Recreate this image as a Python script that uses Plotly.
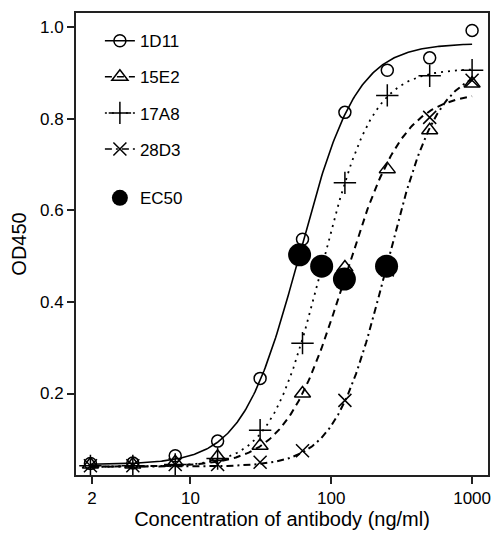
import numpy as np
import plotly.graph_objects as go

# ---- data ----
conc = [1.95, 3.9, 7.8, 15.6, 31.25, 62.5, 125, 250, 500, 1000]
antibodies = ["1D11", "15E2", "17A8", "28D3"]
od_1D11 = [0.047, 0.048, 0.064, 0.096, 0.233, 0.537, 0.814, 0.906, 0.933, 0.993]
od_15E2 = [0.045, 0.045, 0.050, 0.062, 0.086, 0.200, 0.475, 0.690, 0.775, 0.877]
od_17A8 = [0.042, 0.042, 0.045, 0.058, 0.120, 0.310, 0.660, 0.851, 0.894, 0.906]
od_28D3 = [0.042, 0.042, 0.045, 0.045, 0.050, 0.075, 0.185, 0.470, 0.803, 0.884]

# four-parameter logistic fit parameters
fit_bottom = [0.045, 0.040, 0.040, 0.040]
fit_top = [0.965, 0.860, 0.910, 0.916]
ec50 = [59.6, 124.0, 85.5, 247.0]
hill = [2.15, 2.07, 2.4, 2.4]

# EC50 markers
ec50_od = [0.503, 0.450, 0.478, 0.478]

x_ticks = [2, 10, 100, 1000]
y_ticks = [0.2, 0.4, 0.6, 0.8, 1.0]

series = [od_1D11, od_15E2, od_17A8, od_28D3]
symbols = ["circle-open", "triangle-up-open", "cross-thin-open", "x-thin-open"]
sizes = [12, 14, 16, 13]
dashes = ["solid", "7px,5px", "2px,5px", "7px,4px,2px,4px"]
widths = [1.6, 2.0, 1.8, 2.0]

fig = go.Figure()
xf = np.logspace(np.log10(conc[0]), np.log10(conc[-1]), 300)
for i, name in enumerate(antibodies):
    yf = fit_bottom[i] + (fit_top[i] - fit_bottom[i]) / (1 + (ec50[i] / xf) ** hill[i])
    fig.add_trace(go.Scatter(x=xf, y=yf, mode="lines", showlegend=False,
                             line=dict(color="black", width=widths[i], dash=dashes[i]),
                             hoverinfo="skip"))
for i, name in enumerate(antibodies):
    fig.add_trace(go.Scatter(
        x=conc, y=series[i], mode="markers", name=name, legendgroup=name,
        marker=dict(symbol=symbols[i], size=sizes[i], color="black",
                    line=dict(color="black", width=1.5)),
        showlegend=False))
    # legend entry with line + marker
    fig.add_trace(go.Scatter(
        x=[None], y=[None], mode="lines+markers", name=name, legendgroup=name,
        marker=dict(symbol=symbols[i], size=sizes[i], color="black",
                    line=dict(color="black", width=1.5)),
        line=dict(color="black", width=1.5, dash=dashes[i])))

fig.add_trace(go.Scatter(
    x=ec50, y=ec50_od, mode="markers", name="EC50", legend="legend2",
    marker=dict(symbol="circle", size=23, color="black")))

font = "Liberation Sans, Arial, Helvetica, sans-serif"
fig.update_layout(
    width=491, height=538,
    margin=dict(l=76, r=3, t=13, b=63),
    paper_bgcolor="white", plot_bgcolor="white",
    font=dict(family=font, size=17, color="black"),
    legend=dict(x=0.058, y=0.978, xanchor="left", yanchor="top",
                bgcolor="rgba(0,0,0,0)", font=dict(size=17),
                traceorder="grouped", tracegroupgap=11),
    legend2=dict(x=0.058, y=0.638, xanchor="left", yanchor="top",
                 bgcolor="rgba(0,0,0,0)", font=dict(size=17)),
    xaxis=dict(type="log", range=[np.log10(1.54), 3.113], automargin=False,
               tickvals=x_ticks, ticktext=[str(v) for v in x_ticks],
               ticklabeloverflow="allow",
               ticks="outside", ticklen=7, tickwidth=2, tickcolor="#222",
               showline=True, linecolor="#222", linewidth=2, mirror=True,
               showgrid=False, zeroline=False,
               title=dict(text="Concentration of antibody (ng/ml)", standoff=4),
               tickfont=dict(size=17)),
    yaxis=dict(range=[0.022, 1.031], automargin=False,
               tickvals=y_ticks, ticktext=["%.1f" % v for v in y_ticks],
               ticks="outside", ticklen=7, tickwidth=2, tickcolor="#222",
               showline=True, linecolor="#222", linewidth=2, mirror=True,
               showgrid=False, zeroline=False,
               title=dict(text="OD450", standoff=8),
               tickfont=dict(size=17)),
)

fig.write_html("out.html", config={"displayModeBar": False},
               post_script="document.body.style.margin='0px';document.body.style.overflow='hidden';")
